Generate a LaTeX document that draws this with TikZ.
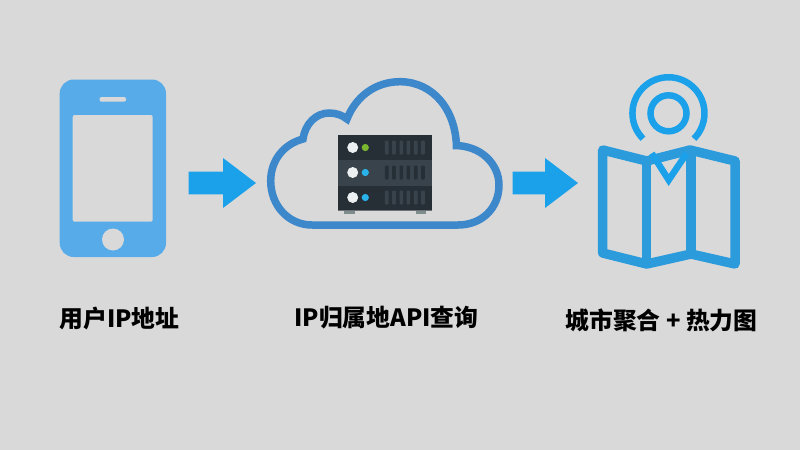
\documentclass[tikz,border=0pt]{standalone}
\usepackage{fontspec}
\newfontfamily\cjk{Noto Sans CJK SC Black}
\definecolor{bg}{HTML}{D9D9D9}
\definecolor{phone}{HTML}{56ABE8}
\definecolor{arrowc}{HTML}{1BA1EA}
\definecolor{cloudc}{HTML}{3D87CB}
\definecolor{mapc}{HTML}{2B9BDC}
\definecolor{srvd}{HTML}{262E36}
\definecolor{srvm}{HTML}{39434B}
\definecolor{srvw}{HTML}{ECF0F1}
\definecolor{srvf}{HTML}{7F8C8D}
\definecolor{srvg}{HTML}{7CB82F}
\definecolor{srvb}{HTML}{29B3EA}
\tikzset{
  label text/.style={font=\cjk\fontsize{23.8}{28}\selectfont,text=black,inner sep=0pt,anchor=center},
  flow arrow/.style={fill=arrowc,draw=none},
  led/.style={fill=srvw,draw=none},
}
\begin{document}
\begin{tikzpicture}[x=1pt,y=-1pt]
\useasboundingbox (0,0) rectangle (800,450);
\fill[bg] (0,0) rectangle (800,450);
% phone
\fill[phone,rounded corners=14pt] (59.7,79.5) rectangle (166,257);
\fill[bg,rounded corners=2pt] (72.7,115) rectangle (152.7,221.7);
\fill[bg,rounded corners=2pt] (99.5,97) rectangle (126,101.7);
\fill[bg] (113,239.5) circle[radius=11];
% arrows
\fill[flow arrow] (188.7,171.7) -- (223,171.7) -- (223,158) -- (256,183) -- (223,208) -- (223,194.3) -- (188.7,194.3) -- cycle;
\fill[flow arrow] (512.5,171.7) -- (545,171.7) -- (545,158) -- (578,183) -- (545,208) -- (545,194.3) -- (512.5,194.3) -- cycle;
% cloud
\draw[cloudc,line width=7.5pt,miter limit=10]
  (453,145.5)
  .. controls (482,145) and (499,165) .. (499,185)
  .. controls (499,208) and (482,225) .. (458,225)
  -- (312,225)
  .. controls (288,225) and (270.7,205) .. (270.7,181)
  .. controls (270.7,160) and (284,144) .. (303,139)
  .. controls (305,124) and (316,113) .. (329,113)
  .. controls (336,113) and (342,115) .. (347,119)
  .. controls (356,96) and (376,81.7) .. (400,81.7)
  .. controls (433,81.7) and (456.5,110) .. (456.5,149);
% server
\fill[srvf] (344,209) rectangle (354.5,214);
\fill[srvf] (416,209) rectangle (426,214);
\fill[srvd!60!bg] (338.3,210) rectangle (431.7,211);
\fill[srvd] (338.3,135) rectangle (431.7,160);
\fill[srvm] (338.3,160) rectangle (431.7,185.5);
\fill[srvd] (338.3,186) rectangle (431.7,210);
\foreach \r/\c/\s in {147.5/srvg/srvm,172.5/srvb/srvd,197.5/srvb/srvm}{
  \fill[led] (352.7,\r) circle[radius=5.5];
  \fill[\c] (365.3,\r) circle[radius=3.6];
  \foreach \x in {386.7,394,401.3,408.3,415.7,423}{
    \fill[\s,rounded corners=1pt] (\x-1.8,\r-7) rectangle (\x+1.8,\r+7);
  }
}
% pin and map
\draw[mapc,line width=9.5pt,line join=round]
  (602.7,150) -- (646.7,161) -- (690,150) -- (735,161) -- (735,264) -- (691,254) -- (646.7,264) -- (602.7,253) -- cycle;
\draw[mapc,line width=9.5pt] (646.7,161) -- (646.7,264);
\draw[mapc,line width=9.5pt] (691,150) -- (691,254);
\draw[arrowc,line width=6.5pt] (668.5,113.3) circle[radius=18];
\draw[arrowc,line width=6.5pt] (643,138.7) arc[start angle=135,end angle=405,radius=36];
\draw[arrowc,line width=6.5pt,miter limit=10] (651.7,153.3) -- (668.7,180) -- (686.7,153.3);
% labels
\node[label text] (a) at (119.5,318) {用户IP地址};
\node[label text] (b) at (386.5,318) {IP归属地API查询};
\node[label text] (c) at (661.5,320) {城市聚合 + 热力图};
\end{tikzpicture}
\end{document}
